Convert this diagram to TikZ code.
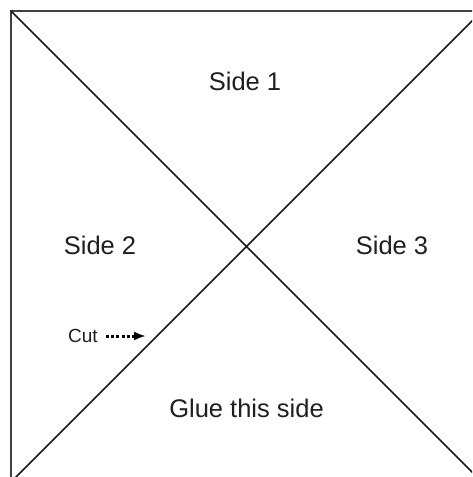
\documentclass[tikz,border=0pt]{standalone}
\usepackage{fontspec}
\setmainfont{Liberation Sans}
\usetikzlibrary{arrows.meta}
\begin{document}
\begin{tikzpicture}[x=1pt,y=-1pt,
  edge/.style={line width=2.2pt, draw=black!75},
  diag/.style={line width=1.6pt, draw=black!90},
  lbl/.style={inner sep=0pt, text=black!88, font=\fontsize{25.5}{30}\selectfont},
  small/.style={inner sep=0pt, text=black!88, font=\fontsize{19}{22}\selectfont},
  cutarrow/.style={line width=3pt, dash pattern=on 3pt off 2.2pt, -{Latex[length=12pt,width=9pt]}}]
\useasboundingbox (0,0) rectangle (472,477);
\fill[white] (0,0) rectangle (472,477);
\clip (0,0) rectangle (472,477);
\coordinate (tl) at (11,11);
\coordinate (tr) at (482,11);
\coordinate (bl) at (11,482);
\coordinate (br) at (482,482);
\draw[edge] (bl) -- (tl) -- (tr) -- (br) -- cycle;
\draw[diag] (tl) -- (br);
\draw[diag] (bl) -- (tr);
\node[lbl] (s1) at (245,81) {Side 1};
\node[lbl] (s2) at (100,245) {Side 2};
\node[lbl] (s3) at (392,245) {Side 3};
\node[lbl] (glue) at (246.5,408) {Glue this side};
\node[small] (cut) at (83,336) {Cut};
\coordinate (cutend) at (146,336);
\draw[cutarrow] ([xshift=8pt]cut.east) -- (cutend);
\end{tikzpicture}
\end{document}
